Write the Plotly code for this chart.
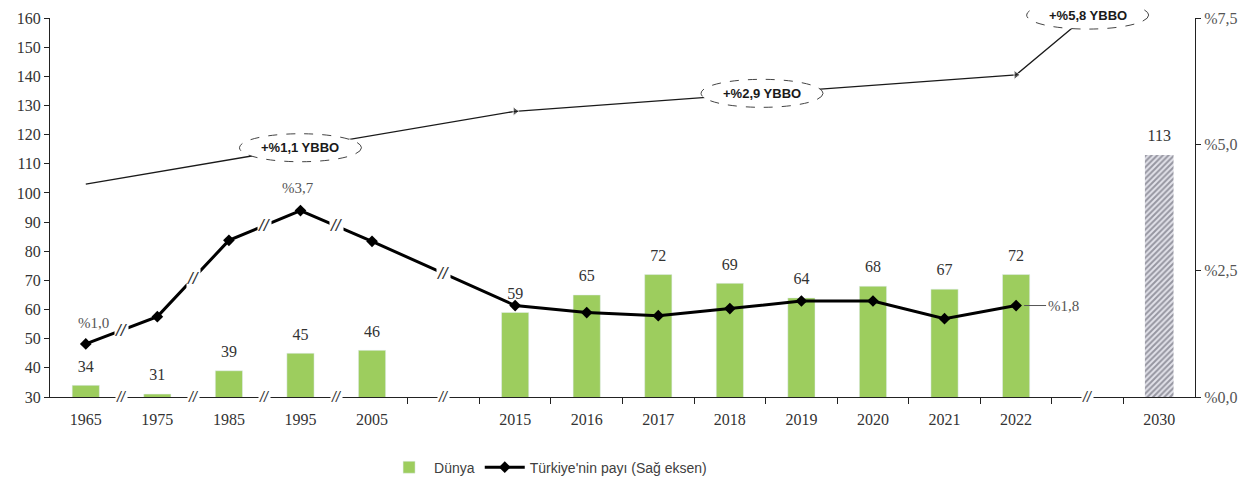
import numpy as np
import plotly.graph_objects as go

# ---------------- data ----------------
years = ["1965", "1975", "1985", "1995", "2005",
         "2015", "2016", "2017", "2018", "2019", "2020", "2021", "2022"]
world = [34, 31, 39, 45, 46, 59, 65, 72, 69, 64, 68, 67, 72]          # Dünya (left axis)
share = [1.05, 1.59, 3.10, 3.69, 3.08, 1.81, 1.67, 1.61, 1.75, 1.90, 1.90, 1.55, 1.81]  # % (right axis)
proj_year = "2030"
proj_world = 113
share_labels = {"1965": "%1,0", "1995": "%3,7", "2022": "%1,8"}

# upward trend arrow (left-axis units), points: 1965, 2015, 2022, end (break slot)
trend_values = [103, 128, 140.5, 161]
growth_labels = ["+%1,1 YBBO", "+%2,9 YBBO", "+%5,8 YBBO"]

left_range = [30, 160]
right_range = [0, 7.5]
right_tickvals = [0, 2.5, 5, 7.5]
right_ticktext = ["%0,0", "%2,5", "%5,0", "%7,5"]

# ---------------- slot layout (with gap slots for axis breaks) ----------------
slots = [i if i < 5 else i + 1 for i in range(len(years))]   # gap slot 5
gap1 = 5
gap2 = 14
proj_slot = 15
n_slots = 16
trend_x = [slots[0], slots[5], slots[12], gap2]
growth_x = [3, 9.45, gap2]

SERIF = "Liberation Serif"
SANS = "Liberation Sans"
GREEN = "#9dcd5e"
TXT = "#333333"

fig = go.Figure()

fig.add_trace(go.Bar(
    x=slots, y=world, name="Dünya", marker_color=GREEN, width=0.38, hoverinfo="y",
))
fig.add_trace(go.Bar(
    x=[proj_slot], y=[proj_world], showlegend=False, width=0.4,
    marker=dict(color="#e2e2ea",
                pattern=dict(shape="/", fgcolor="#4a4a58", bgcolor="#e2e2ea", size=4, solidity=0.5),
                line=dict(width=0)),
))
# value labels above the bars
fig.add_trace(go.Scatter(
    x=slots + [proj_slot], y=world + [proj_world], mode="markers+text",
    marker=dict(size=14, color="rgba(0,0,0,0)"), showlegend=False, hoverinfo="skip",
    text=[str(v) for v in world + [proj_world]], textposition="top center", cliponaxis=False,
    textfont=dict(family=SERIF, size=16, color=TXT),
))
fig.add_trace(go.Scatter(
    x=slots, y=share, yaxis="y2", mode="lines+markers",
    name="Türkiye'nin payı (Sağ eksen)",
    line=dict(color="black", width=3),
    marker=dict(symbol="diamond", size=9, color="black"),
))
fig.add_trace(go.Scatter(
    x=trend_x, y=trend_values, mode="lines+markers", showlegend=False, cliponaxis=False,
    line=dict(color="#1a1a1a", width=1.3),
    marker=dict(symbol="triangle-right", size=[0, 8, 8, 0], color="#1a1a1a"),
    hoverinfo="skip",
))

annotations = []
shapes = []

# growth ellipses on the trend line
gy = np.interp(growth_x, trend_x, trend_values)
for gx, yy, lab in zip(growth_x, gy, growth_labels):
    px = (gx + 0.5) / n_slots
    py = (yy - left_range[0]) / (left_range[1] - left_range[0])
    shapes.append(dict(type="circle", xref="paper", yref="paper",
                       xsizemode="pixel", ysizemode="pixel",
                       xanchor=px, yanchor=py, x0=-61, x1=61, y0=-14, y1=14,
                       line=dict(color="#444", width=1, dash="dash"),
                       fillcolor="white", layer="above"))
    annotations.append(dict(xref="paper", yref="paper", x=px, y=py, text=f"<b>{lab}</b>",
                            xanchor="center", yanchor="middle",
                            showarrow=False, font=dict(family=SANS, size=13, color="#1a1a1a")))

# share labels
i0 = years.index("1965")
annotations.append(dict(x=slots[i0], y=share[i0], yref="y2", text=share_labels["1965"],
                        showarrow=False, yshift=21, xshift=8,
                        font=dict(family=SERIF, size=15, color="#555")))
i1 = years.index("1995")
annotations.append(dict(x=slots[i1], y=share[i1], yref="y2", text=share_labels["1995"],
                        showarrow=False, yshift=23, xshift=-2,
                        font=dict(family=SERIF, size=15, color="#555")))
i2 = years.index("2022")
annotations.append(dict(x=slots[i2], y=share[i2], yref="y2", text=share_labels["2022"],
                        showarrow=True, arrowhead=0, arrowwidth=1, arrowcolor="#555",
                        ax=30, ay=0, standoff=8, xanchor="left",
                        font=dict(family=SERIF, size=15, color="#555")))

# break marks on the share line and on the x-axis
line_breaks = [0.5, 1.5, 2.5, 3.5, gap1]
for b in line_breaks:
    yb = float(np.interp(b, slots, share))
    annotations.append(dict(x=b, y=yb, yref="y2", text="<i>//</i>", showarrow=False,
                            bgcolor="white", borderpad=0,
                            font=dict(family=SANS, size=17, color="#333")))
axis_breaks = [0.5, 1.5, 2.5, 3.5, gap1, gap2]
for b in axis_breaks:
    annotations.append(dict(x=b, y=left_range[0], yref="y", text="<i>//</i>", showarrow=False,
                            bgcolor="white", borderpad=0,
                            font=dict(family=SANS, size=14, color="#333")))

tick_bounds = [b + 0.5 for b in range(4, 15)]

# page body has an 8px default margin -> figure sized/offset to fill 1253x477 window
fig.update_layout(
    width=1245, height=469,
    margin=dict(l=42, r=58, t=10, b=80, autoexpand=False),
    paper_bgcolor="white", plot_bgcolor="white",
    barmode="overlay",
    showlegend=True,
    legend=dict(orientation="h", x=0.435, xanchor="center", y=0.02, yanchor="middle",
                yref="container",
                font=dict(family=SANS, size=14, color="#404040"), itemwidth=40),
    xaxis=dict(range=[-0.5, n_slots - 0.5], tickmode="array", automargin=False,
               tickvals=slots + [proj_slot], ticktext=years + [proj_year],
               ticks="", showline=True, linecolor="#222", linewidth=1,
               showgrid=False, zeroline=False, ticklabelstandoff=8,
               tickfont=dict(family=SERIF, size=16, color="#333"),
               minor=dict(tickmode="array", tickvals=tick_bounds, ticks="outside",
                          ticklen=6, tickcolor="#222", showgrid=False)),
    yaxis=dict(range=left_range, dtick=10, ticks="outside", ticklen=5, tickcolor="#222",
               automargin=False,
               showline=True, linecolor="#222", linewidth=1, showgrid=False, zeroline=False,
               tickfont=dict(family=SERIF, size=16, color="#333")),
    yaxis2=dict(range=right_range, overlaying="y", side="right", tickmode="array",
                automargin=False,
                tickvals=right_tickvals, ticktext=right_ticktext, ticks="outside",
                ticklen=5, tickcolor="#222", showline=True, linecolor="#222",
                linewidth=1, showgrid=False, zeroline=False,
                tickfont=dict(family=SERIF, size=16, color="#555")),
    annotations=annotations,
    shapes=shapes,
)

fig.write_html("out.html")
